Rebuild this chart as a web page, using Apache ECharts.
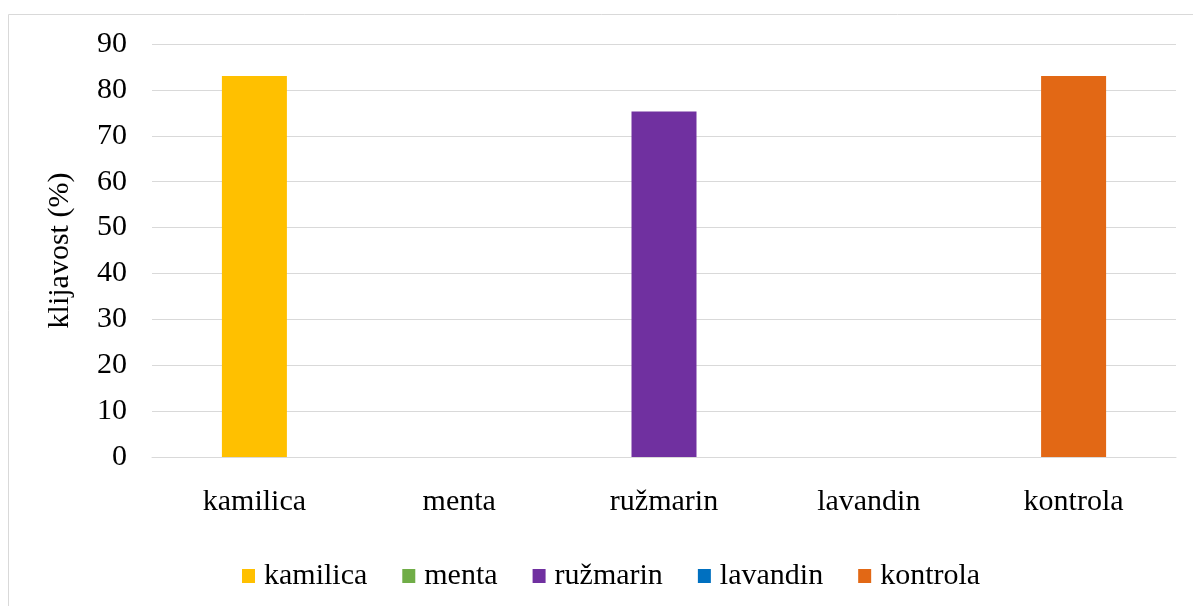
<!DOCTYPE html>
<html>
<head>
<meta charset="utf-8">
<script src="https://cdn.jsdelivr.net/npm/echarts@6/dist/echarts.min.js"></script>
<style>
html,body{margin:0;padding:0;background:#fff;}
#chart{width:1193px;height:606px;}
</style>
</head>
<body>
<div id="chart"></div>
<script>
var categories = ['kamilica', 'menta', 'ružmarin', 'lavandin', 'kontrola'];
var values = [83, 0, 75.3, 0, 83];
var colors = ['#FFC000', '#70AD47', '#7030A0', '#0070C0', '#E26815'];
var yTicks = [0, 10, 20, 30, 40, 50, 60, 70, 80, 90];
var yAxisTitle = 'klijavost (%)';

var FONT = '"Liberation Serif", "Times New Roman", serif';
var FS = 30;
var chart = echarts.init(document.getElementById('chart'));
var series = categories.map(function (name, k) {
  return {
    name: name,
    type: 'bar',
    stack: 'all',
    barWidth: 65,
    itemStyle: { color: colors[k] },
    data: values.map(function (v, i) { return i === k ? v : '-'; })
  };
});
chart.setOption({
  animation: false,
  textStyle: { fontFamily: FONT },
  graphic: [{
    type: 'rect',
    shape: { x: 8.5, y: 14.5, width: 1200, height: 620 },
    style: { fill: 'none', stroke: '#d9d9d9', lineWidth: 1 },
    silent: true, z: -1
  }],
  grid: { left: 152, right: 17, top: 44, bottom: 149 },
  legend: {
    data: categories,
    left: 242,
    top: 561,
    padding: 0,
    icon: 'rect',
    itemWidth: 13,
    itemHeight: 14,
    itemGap: 35,
    textStyle: { fontFamily: FONT, fontSize: FS, color: '#000', padding: [0, 0, 0, 4] }
  },
  xAxis: {
    type: 'category',
    data: categories,
    axisLine: { lineStyle: { color: '#d9d9d9' } },
    axisTick: { show: false },
    axisLabel: { fontFamily: FONT, fontSize: FS, color: '#000', margin: 30 }
  },
  yAxis: {
    type: 'value',
    min: yTicks[0],
    max: yTicks[yTicks.length - 1],
    interval: 10,
    name: yAxisTitle,
    nameLocation: 'middle',
    nameGap: 77,
    nameTextStyle: { fontFamily: FONT, fontSize: FS, color: '#000' },
    axisLine: { show: false },
    axisTick: { show: false },
    axisLabel: { fontFamily: FONT, fontSize: FS, color: '#000', margin: 25 },
    splitLine: { lineStyle: { color: '#d9d9d9', width: 1 } }
  },
  series: series
});
</script>
</body>
</html>
